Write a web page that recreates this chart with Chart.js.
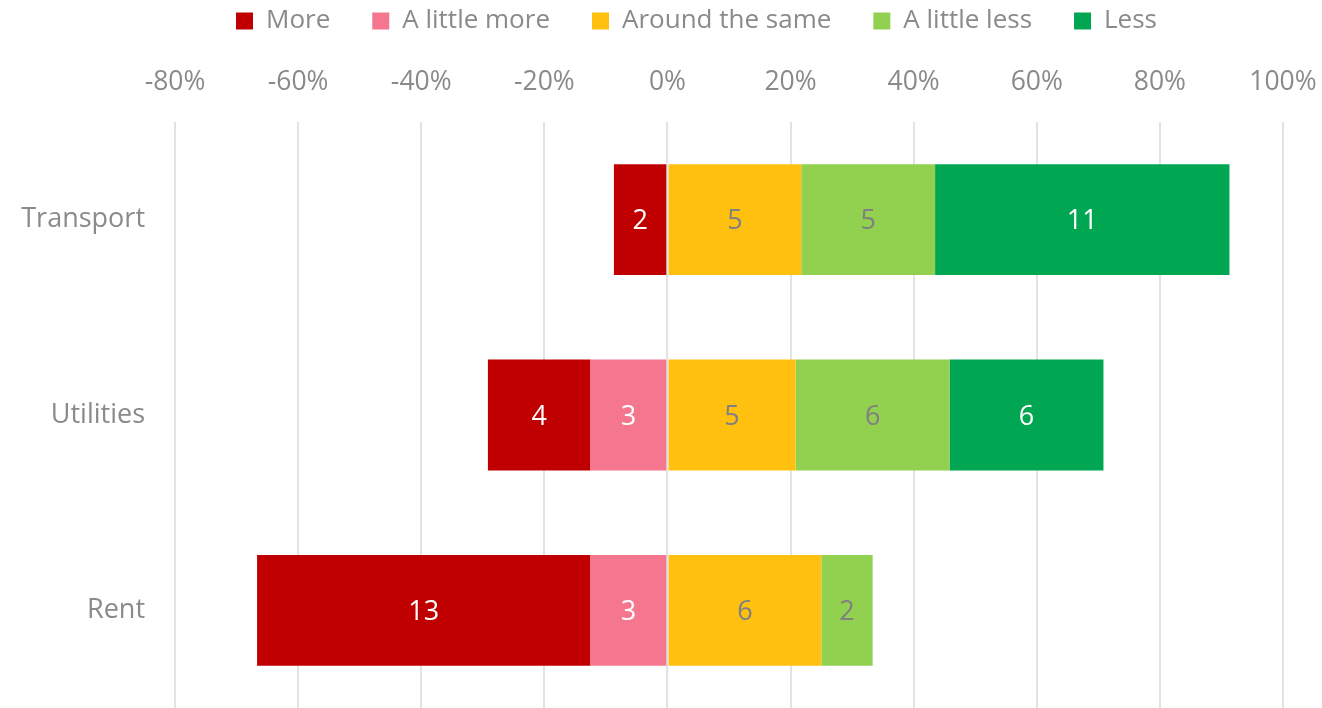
<!DOCTYPE html>
<html>
<head>
<meta charset="utf-8">
<script src="https://cdn.jsdelivr.net/npm/chart.js@4.4.1/dist/chart.umd.min.js"></script>
<style>
  html, body { margin: 0; padding: 0; background: #fff; }
  #wrap { width: 1322px; height: 708px; }
</style>
</head>
<body>
<div id="wrap"><canvas id="chart1"></canvas></div>
<script>
// survey answers (counts per category)
const categories = ['Transport', 'Utilities', 'Rent'];
const more       = [2, 4, 13];
const littleMore = [0, 3, 3];
const same       = [5, 5, 6];
const littleLess = [5, 6, 2];
const less       = [11, 6, 0];

const tickMin = -80;
const tickMax = 100;
const tickStep = 20;

const legendOrder = ['More', 'A little more', 'Around the same', 'A little less', 'Less'];

const GREY = '#8a8a8a';
const FONT = "'Open Sans', sans-serif";

// share of the row total, in %; "more" answers go left of zero
const totals = categories.map((c, i) => more[i] + littleMore[i] + same[i] + littleLess[i] + less[i]);
const pct = (arr, sign) => arr.map((v, i) => sign * v / totals[i] * 100);

// stacking order: the dataset nearest to zero comes first on each side
const series = [
    { label: 'A little more',   counts: littleMore, sign: -1, color: '#F5768F', text: '#ffffff' },
    { label: 'More',            counts: more,       sign: -1, color: '#C00000', text: '#ffffff' },
    { label: 'Around the same', counts: same,       sign: 1,  color: '#FFC010', text: '#808080' },
    { label: 'A little less',   counts: littleLess, sign: 1,  color: '#92D050', text: '#808080' },
    { label: 'Less',            counts: less,       sign: 1,  color: '#00A651', text: '#ffffff' }
];

// count labels in the middle of each segment
const countLabels = {
    id: 'countLabels',
    afterDatasetsDraw(chart) {
        const ctx = chart.ctx;
        ctx.save();
        ctx.font = '27px ' + FONT;
        ctx.textAlign = 'center';
        ctx.textBaseline = 'middle';
        chart.data.datasets.forEach((ds, di) => {
            const meta = chart.getDatasetMeta(di);
            meta.data.forEach((bar, i) => {
                const n = ds.counts[i];
                if (!n) return;
                const p = bar.getProps(['x', 'y', 'base'], true);
                ctx.fillStyle = ds.textColor;
                ctx.fillText(String(n), (p.x + p.base) / 2, p.y + 2);
            });
        });
        ctx.restore();
    }
};

// thin line at 0% drawn over the bars
const zeroLine = {
    id: 'zeroLine',
    afterDatasetsDraw(chart) {
        const x = chart.scales.x.getPixelForValue(0);
        const a = chart.chartArea;
        const ctx = chart.ctx;
        ctx.save();
        ctx.strokeStyle = '#e4e4e4';
        ctx.lineWidth = 1.5;
        ctx.beginPath();
        ctx.moveTo(x, a.top);
        ctx.lineTo(x, a.bottom);
        ctx.stroke();
        ctx.restore();
    }
};

// the legend sits a bit right of the canvas centre
const legendShift = {
    id: 'legendShift',
    afterLayout(chart) {
        chart.legend.left += 55;
        chart.legend.right += 55;
    }
};

let chart = new Chart('chart1', {
    type: 'bar',
    data: {
        labels: categories,
        datasets: series.map(s => ({
            label: s.label,
            data: pct(s.counts, s.sign),
            counts: s.counts,
            textColor: s.text,
            backgroundColor: s.color,
            borderWidth: 0,
            barPercentage: 1,
            categoryPercentage: 0.567
        }))
    },
    options: {
        indexAxis: 'y',
        responsive: true,
        maintainAspectRatio: false,
        animation: false,
        layout: {
            padding: { top: -34, left: 0, right: 39, bottom: 0 }
        },
        scales: {
            x: {
                position: 'top',
                stacked: true,
                min: tickMin,
                max: tickMax,
                afterFit(s) { s.height = 78; },
                border: { display: false },
                grid: {
                    color: '#e3e3e3',
                    lineWidth: 2,
                    drawTicks: true,
                    tickLength: 24,
                    tickColor: 'rgba(0,0,0,0)'
                },
                ticks: {
                    stepSize: tickStep,
                    padding: 0,
                    color: GREY,
                    font: { family: FONT, size: 26.5 },
                    callback: v => v + '%'
                }
            },
            y: {
                stacked: true,
                // fixed width, and no extra room kept under the last row
                afterFit(s) {
                    s.width = 175;
                    s.paddingTop = 0;
                    s.paddingBottom = 0;
                },
                border: { display: false },
                grid: { display: false, drawTicks: true, tickLength: 30 },
                ticks: {
                    padding: 0,
                    color: GREY,
                    font: { family: FONT, size: 27 }
                }
            }
        },
        plugins: {
            legend: {
                position: 'top',
                labels: {
                    boxWidth: 17,
                    boxHeight: 17,
                    padding: 42,
                    color: GREY,
                    font: { family: FONT, size: 26 },
                    sort: (a, b) => legendOrder.indexOf(a.text) - legendOrder.indexOf(b.text)
                }
            },
            tooltip: { enabled: false }
        }
    },
    plugins: [countLabels, zeroLine, legendShift]
});
</script>
</body>
</html>
